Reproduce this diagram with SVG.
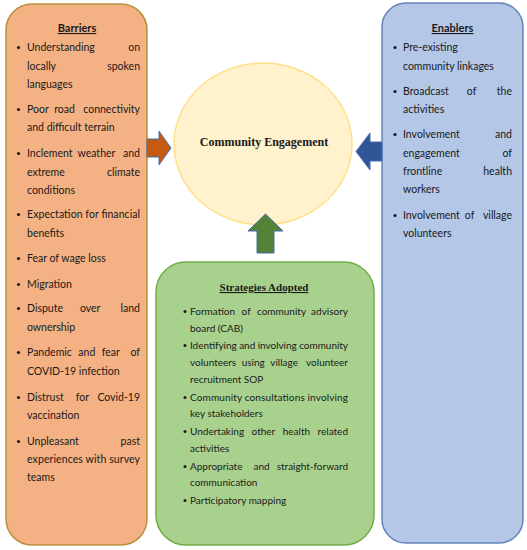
<svg xmlns="http://www.w3.org/2000/svg" width="527" height="550" viewBox="0 0 527 550">
<style>
.t{font-family:Lato,"Liberation Sans",sans-serif;font-size:10.5px;fill:#1a1a1a}
.g{font-family:Lato,"Liberation Sans",sans-serif;font-size:10px;fill:#1a1a1a}
.h{font-family:Lato,"Liberation Sans",sans-serif;font-size:11px;font-weight:bold;fill:#1a1a1a;text-decoration:underline}
.s{font-family:"Liberation Serif","Times New Roman",serif;font-weight:bold;fill:#1a1a1a}
.e{text-anchor:end}
.m{text-anchor:middle}
.b{fill:#1a1a1a}
.arr{stroke:#4a6db0;stroke-width:1}
</style>
<rect width="527" height="550" fill="#ffffff"/>
<g id="engagement">
<ellipse cx="263" cy="144" rx="89" ry="81" fill="#fff2cc" stroke="#ffe08a" stroke-width="1.5"/>
<text class="s m" x="264" y="146" font-size="12">Community Engagement</text>
</g>
<g id="barriers">
<rect x="6" y="4" width="141" height="541" rx="26" fill="#f4b183" stroke="#b8913f" stroke-width="1.5"/>
<text class="h m" x="77" y="32">Barriers</text>
<g class="b">
<circle cx="18.5" cy="47.5" r="1.6"/><circle cx="18.5" cy="109.5" r="1.6"/><circle cx="18.5" cy="153.5" r="1.6"/><circle cx="18.5" cy="214.5" r="1.6"/><circle cx="18.5" cy="258.5" r="1.6"/><circle cx="18.5" cy="284.5" r="1.6"/><circle cx="18.5" cy="308.5" r="1.6"/><circle cx="18.5" cy="352.5" r="1.6"/><circle cx="18.5" cy="397.5" r="1.6"/><circle cx="18.5" cy="441.5" r="1.6"/>
</g>
<text class="t" x="27" y="51">Understanding</text><text class="t e" x="140" y="51">on</text>
<text class="t" x="27" y="70">locally</text><text class="t e" x="140" y="70">spoken</text>
<text class="t" x="27" y="88">languages</text>
<text class="t" y="113"><tspan x="27">Poor</tspan><tspan dx="5.5">road</tspan></text><text class="t e" x="140" y="113">connectivity</text>
<text class="t" x="27" y="131">and difficult terrain</text>
<text class="t" y="157"><tspan x="27">Inclement</tspan><tspan dx="5">weather</tspan></text><text class="t e" x="140" y="157">and</text>
<text class="t" x="27" y="176">extreme</text><text class="t e" x="140" y="176">climate</text>
<text class="t" x="27" y="194">conditions</text>
<text class="t" x="27" y="218" textLength="113" lengthAdjust="spacing">Expectation for financial</text>
<text class="t" x="27" y="237">benefits</text>
<text class="t" x="27" y="262">Fear of wage loss</text>
<text class="t" x="27" y="288">Migration</text>
<text class="t" y="312"><tspan x="27">Dispute</tspan><tspan dx="17">over</tspan></text><text class="t e" x="140" y="312">land</text>
<text class="t" x="27" y="331">ownership</text>
<text class="t" y="356"><tspan x="27">Pandemic</tspan><tspan dx="6.5">and</tspan><tspan dx="6.5">fear</tspan></text><text class="t e" x="140" y="356">of</text>
<text class="t" x="27" y="375">COVID-19 infection</text>
<text class="t" x="27" y="401">Distrust</text><text class="t m" x="82.5" y="401">for</text><text class="t e" x="140" y="401">Covid-19</text>
<text class="t" x="27" y="419">vaccination</text>
<text class="t" x="27" y="445">Unpleasant</text><text class="t e" x="140" y="445">past</text>
<text class="t" x="27" y="463" textLength="113" lengthAdjust="spacing">experiences with survey</text>
<text class="t" x="27" y="481">teams</text>
</g>
<g id="enablers">
<rect x="382" y="3" width="141" height="540" rx="24" fill="#b4c7e7" stroke="#6585b8" stroke-width="1.5"/>
<text class="h m" x="452.5" y="32">Enablers</text>
<g class="b">
<circle cx="395" cy="47.5" r="1.6"/><circle cx="395" cy="91.5" r="1.6"/><circle cx="395" cy="134.5" r="1.6"/><circle cx="395" cy="215.5" r="1.6"/>
</g>
<text class="t" x="403" y="51">Pre-existing</text>
<text class="t" x="403" y="70">community linkages</text>
<text class="t" y="95"><tspan x="403">Broadcast</tspan><tspan dx="18">of</tspan></text><text class="t e" x="512" y="95">the</text>
<text class="t" x="403" y="113">activities</text>
<text class="t" x="403" y="138">Involvement</text><text class="t e" x="512" y="138">and</text>
<text class="t" x="403" y="157">engagement</text><text class="t e" x="512" y="157">of</text>
<text class="t" x="403" y="175">frontline</text><text class="t e" x="512" y="175">health</text>
<text class="t" x="403" y="193">workers</text>
<text class="t" y="219"><tspan x="403">Involvement</tspan><tspan dx="5">of</tspan></text><text class="t e" x="512" y="219">village</text>
<text class="t" x="403" y="237">volunteers</text>
</g>
<g id="strategies">
<rect x="156" y="262" width="218" height="283" rx="30" fill="#a9d18e" stroke="#70ad47" stroke-width="1.5"/>
<text class="s m" x="264" y="291" font-size="11" text-decoration="underline">Strategies Adopted</text>
<g class="b">
<circle cx="185" cy="311.5" r="1.5"/><circle cx="185" cy="345.5" r="1.5"/><circle cx="185" cy="397.5" r="1.5"/><circle cx="185" cy="431.5" r="1.5"/><circle cx="185" cy="466.5" r="1.5"/><circle cx="185" cy="500.5" r="1.5"/>
</g>
<text class="g" y="315"><tspan x="190">Formation</tspan><tspan dx="6.5">of</tspan><tspan dx="6.5">community</tspan></text><text class="g e" x="348" y="315">advisory</text>
<text class="g" x="190" y="332">board (CAB)</text>
<text class="g" x="190" y="349" textLength="158" lengthAdjust="spacing">Identifying and involving community</text>
<text class="g" y="366"><tspan x="190">volunteers</tspan><tspan dx="5.5">using</tspan><tspan dx="5.5">village</tspan></text><text class="g e" x="348" y="366">volunteer</text>
<text class="g" x="190" y="383">recruitment SOP</text>
<text class="g" x="190" y="401" textLength="158" lengthAdjust="spacing">Community consultations involving</text>
<text class="g" x="190" y="417">key stakeholders</text>
<text class="g" y="435"><tspan x="190">Undertaking</tspan><tspan dx="7.5">other</tspan><tspan dx="7.5">health</tspan></text><text class="g e" x="348" y="435">related</text>
<text class="g" x="190" y="452">activities</text>
<text class="g" y="470"><tspan x="190">Appropriate</tspan><tspan dx="11">and</tspan></text><text class="g e" x="348" y="470">straight-forward</text>
<text class="g" x="190" y="486">communication</text>
<text class="g" x="190" y="504">Participatory mapping</text>
</g>
<g id="connectors">
<path class="arr" d="M147,139 H159 V131 L171,148 L159,165 V157 H147 Z" fill="#c55a11"/>
<path class="arr" d="M382,142 H370 V133 L356,151.5 L370,170 V161 H382 Z" fill="#2f5597"/>
<path class="arr" d="M257,253 V231 H248 L265.5,214 L283,231 H274 V253 Z" fill="#538135"/>
</g>
</svg>
